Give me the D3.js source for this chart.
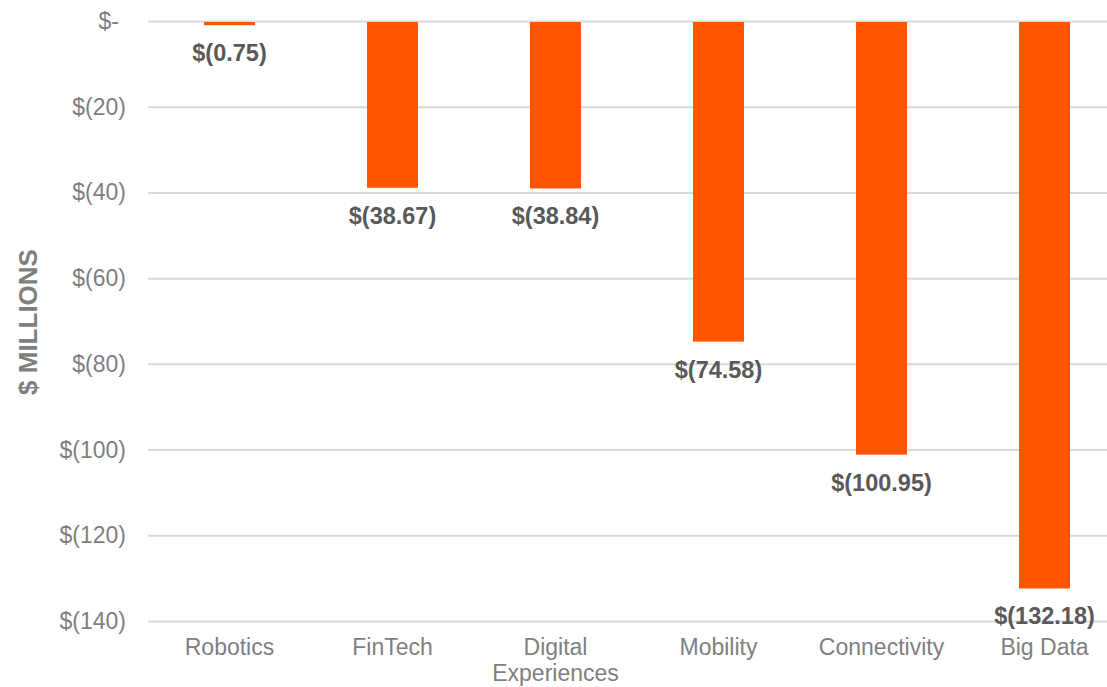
<!DOCTYPE html>
<html>
<head>
<meta charset="utf-8">
<script src="https://cdn.jsdelivr.net/npm/d3@7"></script>
<style>
  body { margin: 0; background: #fff; }
</style>
</head>
<body>
<script>
// data
var categories = ["Robotics", "FinTech", "Digital Experiences", "Mobility", "Connectivity", "Big Data"];
var values = [-0.75, -38.67, -38.84, -74.58, -100.95, -132.18];
var tickValues = [0, -20, -40, -60, -80, -100, -120, -140];
var tickLabels = ["$-", "$(20)", "$(40)", "$(60)", "$(80)", "$(100)", "$(120)", "$(140)"];
var valueLabels = ["$(0.75)", "$(38.67)", "$(38.84)", "$(74.58)", "$(100.95)", "$(132.18)"];

var width = 1107, height = 687;
var font = "Arial, 'Liberation Sans', Helvetica, sans-serif";

var svg = d3.select("body")
    .append("svg")
    .attr("width", width)
    .attr("height", height)
    .attr("font-family", font);

// scales
var xScale = d3.scaleBand()
    .domain(categories)
    .range([148, 1126])
    .paddingInner(0.687)
    .paddingOuter(0.3435);

var yScale = d3.scaleLinear()
    .domain([0, -140])
    .range([21, 621]);

// gridlines
svg.append("g")
    .selectAll("line")
    .data(tickValues)
    .enter()
    .append("line")
    .attr("x1", 148)
    .attr("x2", 1126)
    .attr("y1", d => yScale(d) + 0.5)
    .attr("y2", d => yScale(d) + 0.5)
    .attr("stroke", "#d9d9d9")
    .attr("stroke-width", 2);

// y tick labels (accounting style, "$-" leaves room for the paren)
svg.append("g")
    .selectAll("text")
    .data(tickValues)
    .enter()
    .append("text")
    .attr("x", (d, i) => i == 0 ? 119 : 126)
    .attr("y", d => yScale(d) + 8)
    .attr("text-anchor", "end")
    .attr("font-size", 23)
    .attr("fill", "#7f7f7f")
    .text((d, i) => tickLabels[i]);

// bars
svg.append("g")
    .selectAll("rect")
    .data(values)
    .enter()
    .append("rect")
    .attr("x", (d, i) => xScale(categories[i]))
    .attr("width", xScale.bandwidth())
    .attr("y", yScale(0) + 1)
    .attr("height", d => yScale(d) - yScale(0))
    .attr("fill", "#ff5500");

// value labels
svg.append("g")
    .selectAll("text")
    .data(values)
    .enter()
    .append("text")
    .attr("x", (d, i) => xScale(categories[i]) + xScale.bandwidth() / 2)
    .attr("y", d => yScale(d) + 37)
    .attr("text-anchor", "middle")
    .attr("font-size", 23.5)
    .attr("font-weight", "bold")
    .attr("fill", "#595959")
    .text((d, i) => valueLabels[i]);

// category labels, the two-word one wraps
var cat = svg.append("g")
    .selectAll("text")
    .data(categories)
    .enter()
    .append("text")
    .attr("x", d => xScale(d) + xScale.bandwidth() / 2)
    .attr("y", 655)
    .attr("text-anchor", "middle")
    .attr("font-size", 23)
    .attr("fill", "#7f7f7f");

cat.each(function(d) {
    var words = d == "Digital Experiences" ? d.split(" ") : [d];
    var t = d3.select(this);
    words.forEach(function(w, j) {
        t.append("tspan")
            .attr("x", t.attr("x"))
            .attr("dy", j == 0 ? 0 : 26)
            .text(w);
    });
});

// y axis title
svg.append("text")
    .attr("transform", "translate(37, 322) rotate(-90)")
    .attr("text-anchor", "middle")
    .attr("font-size", 26)
    .attr("font-weight", "bold")
    .attr("fill", "#7f7f7f")
    .text("$ MILLIONS");
</script>
</body>
</html>
